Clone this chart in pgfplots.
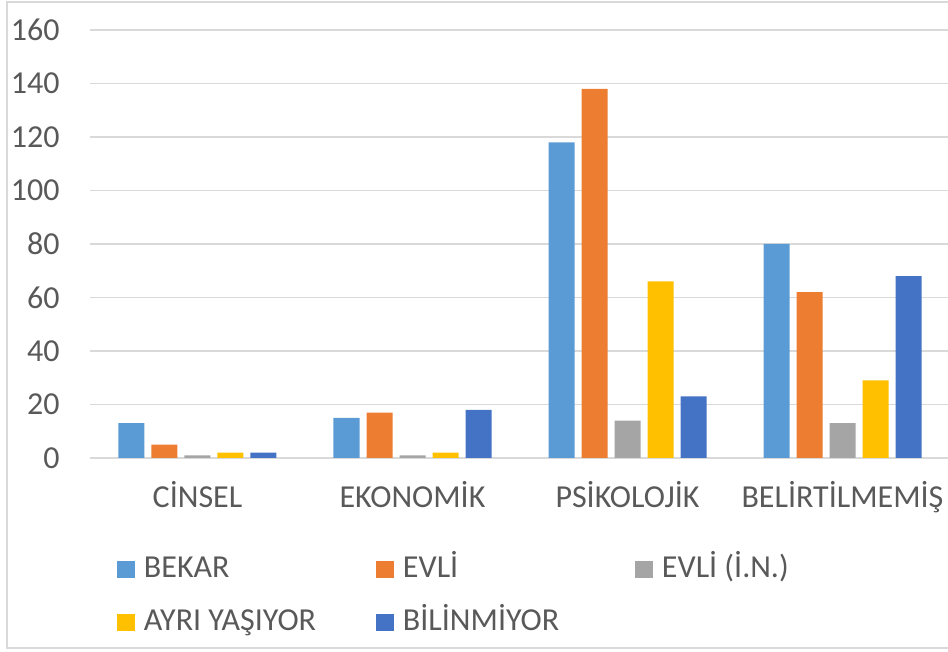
\documentclass[border=0pt]{standalone}
\usepackage{pgfplots}
\pgfplotsset{compat=1.18}
\usepackage{fontspec}
\setmainfont{Carlito}
\definecolor{cA}{HTML}{5B9BD5}
\definecolor{cB}{HTML}{ED7D31}
\definecolor{cC}{HTML}{A5A5A5}
\definecolor{cD}{HTML}{FFC000}
\definecolor{cE}{HTML}{4472C4}
\definecolor{txt}{HTML}{595959}
\definecolor{gridc}{HTML}{D9D9D9}
\newcommand{\lf}{\fontsize{16}{18}\selectfont}
\newcommand{\legent}[1]{\makebox[116pt][l]{\rule[-5pt]{0pt}{19pt}#1}}
\begin{document}
\begin{tikzpicture}
\begin{axis}[
  name=ax,
  scale only axis, width=430pt, height=214pt,
  xmin=-0.5, xmax=3.5, ymin=0, ymax=160,
  ytick={0,20,...,160},
  xtick={0,1,2,3},
  xticklabels={CİNSEL,EKONOMİK,PSİKOLOJİK,BELİRTİLMEMİŞ},
  ymajorgrids, grid style={gridc, line width=0.8pt},
  axis line style={draw=none}, tick style={draw=none},
  ticklabel style={font=\lf, text=txt},
  /pgf/number format/assume math mode=true,
  yticklabel style={anchor=east, inner sep=0pt, xshift=-15pt},
  xticklabel style={anchor=base, inner sep=0pt, yshift=-20.5pt},
  ybar=3.5pt, bar width=13pt,
  legend columns=3,
  legend style={draw=none, fill=none, at={(axis description cs:0,0)}, anchor=north west,
    xshift=13.5pt, yshift=-46pt, inner sep=0pt, outer sep=0pt,
    row sep=11pt, column sep=0pt, font=\lf, text=txt, nodes={inner sep=0pt},
    /tikz/every odd column/.append style={column sep=4.5pt}},
  legend image code/.code={\fill[#1] (0pt,-6.5pt) rectangle (9pt,2pt);},
]
\addplot[fill=cA, draw=none] coordinates {(0,13) (1,15) (2,118) (3,80)};
\addlegendentry{\legent{BEKAR}}
\addplot[fill=cB, draw=none] coordinates {(0,5) (1,17) (2,138) (3,62)};
\addlegendentry{\legent{EVLİ}}
\addplot[fill=cC, draw=none] coordinates {(0,1) (1,1) (2,14) (3,13)};
\addlegendentry{\legent{EVLİ (İ.N.)}}
\addplot[fill=cD, draw=none] coordinates {(0,2) (1,2) (2,66) (3,29)};
\addlegendentry{\legent{AYRI YAŞIYOR}}
\addplot[fill=cE, draw=none] coordinates {(0,2) (1,18) (2,23) (3,68)};
\addlegendentry{\legent{BİLİNMİYOR}}
\end{axis}
\begin{scope}[x=1pt,y=1pt, shift={(ax.south west)}]
\draw[gridc, line width=1pt] (435,-95) -- (-41.5,-95) -- (-41.5,228) -- (435,228);
\pgfresetboundingbox
\path[use as bounding box] (-45,-97) rectangle (429,229);
\end{scope}
\end{tikzpicture}
\end{document}
